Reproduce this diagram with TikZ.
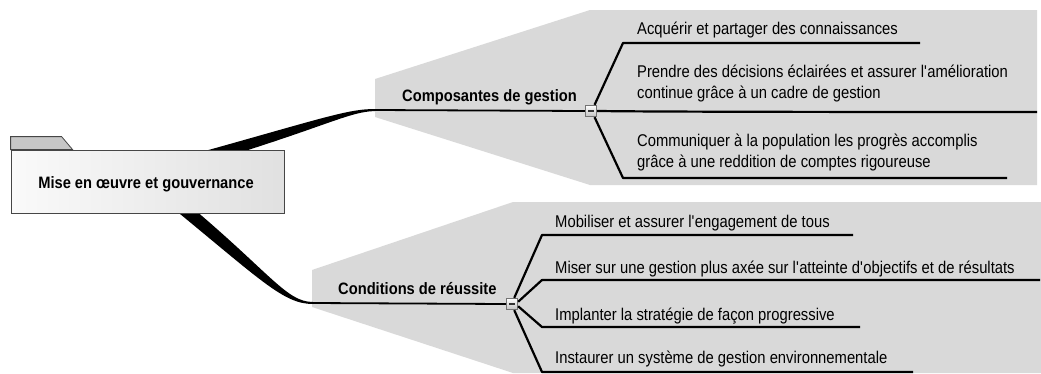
\documentclass[tikz,border=0pt]{standalone}
\usepackage{fontspec}
\setmainfont{Liberation Sans}
\newfontfamily\leaffamily{Liberation Sans}[FakeStretch=0.87]
\newfontfamily\branchfamily{Liberation Sans}[FakeStretch=0.89]
\definecolor{regiongray}{RGB}{217,217,217}
\definecolor{framegray}{RGB}{70,70,70}
\begin{document}
\begin{tikzpicture}[x=1pt,y=-1pt,
  region/.style={fill=regiongray,draw=none},
  leaf/.style={anchor=base west,inner sep=0pt,align=left,font=\leaffamily\fontsize{17}{20.5}\selectfont},
  branchlabel/.style={anchor=base west,inner sep=0pt,font=\branchfamily\fontsize{16.5}{19}\selectfont\bfseries},
  leafline/.style={line width=2.2pt,line join=round},
  mainline/.style={line width=1.8pt},
  taper/.style={fill=black,draw=none},
  mainbox/.style={draw=framegray,line width=0.8pt,left color=white!98!black,right color=white!88!black,
    minimum width=273pt,minimum height=63pt,inner sep=0pt},
  rootlabel/.style={anchor=base,inner sep=0pt,font=\branchfamily\fontsize{16.5}{19}\selectfont\bfseries},
  tabshape/.style={fill=black!22,draw=framegray,line width=0.8pt},
  toggle/.style={draw=black!55,line width=0.8pt,minimum size=11.5pt,inner sep=0pt,
    top color=white,bottom color=black!25,
    path picture={\draw[line width=1.1pt,black!80]
      ([xshift=-3pt]path picture bounding box.center) -- ([xshift=3pt]path picture bounding box.center);}}
]
\useasboundingbox (0,0) rectangle (1041,373);
% shaded regions
\path[region] (375,79) -- (590,10) -- (1037,10) -- (1037,185) -- (590,185) -- (375,117) -- cycle;
\path[region] (312,270) -- (513,202) -- (1041,202) -- (1041,373) -- (513,373) -- (312,307) -- cycle;
% tapered main connectors
\coordinate (e1) at (375,110);
\coordinate (e2) at (313,303);
\path[taper] (158,164) .. controls (318,120) and (345,109) .. (375,109) -- (375,111)
   .. controls (345,112) and (322,130) .. (162,176) -- cycle;
\path[taper] (171,190) .. controls (269,270) and (285,302) .. (313,302) -- (313,304)
   .. controls (283,304) and (261,280) .. (163,200) -- cycle;
% root
\node[mainbox] (root) at (147.5,181.5) {};
\path[tabshape] (root.north west) -- ++(0,-13) -- ++(51,0) -- ++(11,13) -- cycle;
\node[rootlabel] (rootText) at (146,188) {Mise en œuvre et gouvernance};
% branch labels and toggles
\node[branchlabel] (b1) at (402,101.5) {Composantes de gestion};
\node[branchlabel] (b2) at (338,294) {Conditions de réussite};
\node[toggle] (t1) at (591,111) {};
\node[toggle] (t2) at (512,304) {};
\draw[mainline] (e1) -- (t1.west);
\draw[mainline] (e2) -- (t2.west);
% upper leaves
\coordinate (a1s) at (623,43);  \coordinate (a1e) at (920,43);
\coordinate (a2e) at (1037,112);
\coordinate (a3s) at (623,178); \coordinate (a3e) at (1007,178);
\draw[leafline] (t1.60) -- (a1s) -- (a1e);
\draw[leafline] (t1.east) .. controls (610,111) and (615,112) .. (a2e);
\draw[leafline] (t1.-60) -- (a3s) -- (a3e);
% lower leaves
\coordinate (d1s) at (542,235); \coordinate (d1e) at (853,235);
\coordinate (d2s) at (542,280); \coordinate (d2e) at (1040,280);
\coordinate (d3s) at (542,327); \coordinate (d3e) at (860,327);
\coordinate (d4s) at (542,372); \coordinate (d4e) at (913,372);
\draw[leafline] (t2.70) -- (d1s) -- (d1e);
\draw[leafline] (t2.20) -- (d2s) -- (d2e);
\draw[leafline] (t2.-20) -- (d3s) -- (d3e);
\draw[leafline] (t2.-70) -- (d4s) -- (d4e);
% texts
\node[leaf] (l1) at (637,34.5) {Acquérir et partager des connaissances};
\node[leaf] (l2) at (637,98) {Prendre des décisions éclairées et assurer l\textquotesingle amélioration\\continue grâce à un cadre de gestion};
\node[leaf] (l3) at (637,167) {Communiquer à la population les progrès accomplis\\grâce à une reddition de comptes rigoureuse};
\node[leaf] (m1) at (555,227) {Mobiliser et assurer l\textquotesingle engagement de tous};
\node[leaf] (m2) at (555,273) {Miser sur une gestion plus axée sur l\textquotesingle atteinte d\textquotesingle objectifs et de résultats};
\node[leaf] (m3) at (555,320) {Implanter la stratégie de façon progressive};
\node[leaf] (m4) at (555,363) {Instaurer un système de gestion environnementale};
\end{tikzpicture}
\end{document}
